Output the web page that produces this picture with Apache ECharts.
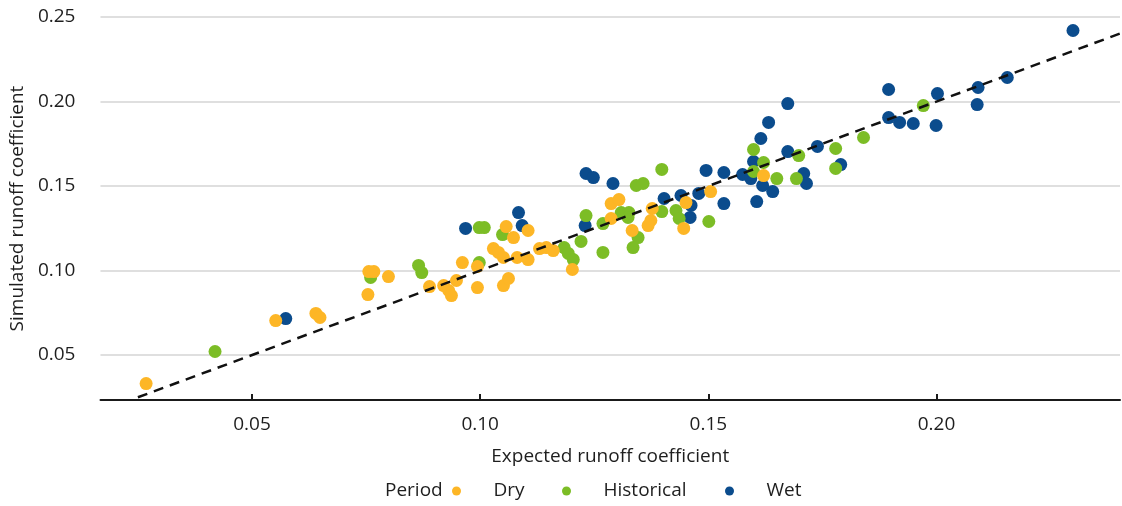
<!DOCTYPE html>
<html>
<head>
<meta charset="utf-8">
<script src="https://cdn.jsdelivr.net/npm/echarts@6/dist/echarts.min.js"></script>
<style>
  html, body { margin: 0; padding: 0; background: #ffffff; }
  #chart { width: 1122px; height: 506px; }
</style>
</head>
<body>
<div id="chart"></div>
<script>
// Expected vs simulated runoff coefficient, grouped by climate period
const dryExpected = [0.0268, 0.0552, 0.0640, 0.0649, 0.0756, 0.0767, 0.0754, 0.0799, 0.0889, 0.0920,
  0.0931, 0.0937, 0.0948, 0.0961, 0.0994, 0.0994, 0.1057, 0.1073, 0.1105, 0.1029,
  0.1040, 0.1051, 0.1081, 0.1105, 0.1051, 0.1062, 0.1130, 0.1145, 0.1160, 0.1202,
  0.1287, 0.1304, 0.1287, 0.1377, 0.1374, 0.1368, 0.1333, 0.1451, 0.1446, 0.1505, 0.1621];
const drySimulated = [0.0331, 0.0704, 0.0746, 0.0722, 0.0994, 0.0994, 0.0858, 0.0964, 0.0905, 0.0911,
  0.0882, 0.0852, 0.0941, 0.1047, 0.1024, 0.0899, 0.1260, 0.1195, 0.1237, 0.1130,
  0.1107, 0.1077, 0.1077, 0.1065, 0.0911, 0.0953, 0.1130, 0.1136, 0.1118, 0.1006,
  0.1396, 0.1420, 0.1308, 0.1367, 0.1296, 0.1266, 0.1237, 0.1402, 0.1249, 0.1467, 0.1562];

const histExpected = [0.0419, 0.0760, 0.0865, 0.0872, 0.0998, 0.0998, 0.1009, 0.1049, 0.1184, 0.1193,
  0.1204, 0.1221, 0.1232, 0.1269, 0.1269, 0.1309, 0.1326, 0.1324, 0.1346, 0.1335,
  0.1342, 0.1357, 0.1398, 0.1398, 0.1429, 0.1436, 0.1501, 0.1599, 0.1621, 0.1599,
  0.1650, 0.1698, 0.1693, 0.1779, 0.1779, 0.1840, 0.1971];
const histSimulated = [0.0521, 0.0959, 0.1030, 0.0988, 0.1047, 0.1254, 0.1254, 0.1213, 0.1136, 0.1101,
  0.1065, 0.1172, 0.1325, 0.1278, 0.1107, 0.1343, 0.1343, 0.1314, 0.1195, 0.1136,
  0.1503, 0.1515, 0.1598, 0.1349, 0.1355, 0.1308, 0.1290, 0.1716, 0.1639, 0.1586,
  0.1544, 0.1680, 0.1544, 0.1722, 0.1604, 0.1787, 0.1976];

const wetExpected = [0.0574, 0.0968, 0.1084, 0.1092, 0.1232, 0.1248, 0.1291, 0.1230, 0.1403, 0.1440,
  0.1462, 0.1479, 0.1460, 0.1495, 0.1534, 0.1534, 0.1575, 0.1593, 0.1599, 0.1615,
  0.1632, 0.1674, 0.1619, 0.1641, 0.1606, 0.1674, 0.1709, 0.1715, 0.1739, 0.1790,
  0.1895, 0.1895, 0.1919, 0.1949, 0.2002, 0.1999, 0.2089, 0.2091, 0.2155, 0.2299];
const wetSimulated = [0.0716, 0.1249, 0.1343, 0.1266, 0.1574, 0.1550, 0.1515, 0.1266, 0.1426, 0.1444,
  0.1385, 0.1456, 0.1314, 0.1592, 0.1580, 0.1396, 0.1568, 0.1544, 0.1645, 0.1781,
  0.1876, 0.1988, 0.1503, 0.1467, 0.1408, 0.1704, 0.1574, 0.1515, 0.1734, 0.1627,
  0.2071, 0.1905, 0.1876, 0.1870, 0.2047, 0.1858, 0.1982, 0.2083, 0.2142, 0.2420];

// 1:1 reference line end points
const oneToOne = [0.025, 0.2402];

const xTicks = [0.05, 0.10, 0.15, 0.20];
const yTicks = [0.05, 0.10, 0.15, 0.20, 0.25];
const periods = ['Dry', 'Historical', 'Wet'];
const colors = { Dry: '#FDB626', Historical: '#7CBD26', Wet: '#0B4C8D' };

const pairs = (xs, ys) => xs.map((x, i) => [x, ys[i]]);

const FONT = '"Open Sans", sans-serif';
const FONT_SIZE = 19;
const TEXT = '#1e1e1e';
const LEGEND_MID = 491;

const chart = echarts.init(document.getElementById('chart'), null, { renderer: 'canvas' });

// each legend entry is placed on its own so the spacing follows the period labels
const legendPos = { Dry: 452, Historical: 562, Wet: 725 };
const legends = periods.map(p => ({
  data: [p],
  left: legendPos[p],
  top: LEGEND_MID - 10,
  padding: 0,
  icon: 'circle',
  itemWidth: 64,
  itemHeight: 9,
  selectedMode: false,
  textStyle: { fontFamily: FONT, fontSize: FONT_SIZE, color: TEXT, lineHeight: 20 }
}));

const scatter = (name, xs, ys, z) => ({
  name: name,
  type: 'scatter',
  data: pairs(xs, ys),
  symbolSize: 13,
  itemStyle: { color: colors[name], opacity: 1 },
  z: z
});

chart.setOption({
  animation: false,
  textStyle: { fontFamily: FONT },
  grid: { left: 98, right: 2, top: 17, bottom: 106, containLabel: false },
  legend: legends,
  graphic: [{
    type: 'text',
    x: 385,
    y: LEGEND_MID,
    style: { text: 'Period', font: FONT_SIZE + 'px ' + FONT, fill: TEXT, verticalAlign: 'middle', align: 'left' }
  }],
  xAxis: {
    type: 'value',
    min: 0.0168,
    max: 0.2402,
    name: 'Expected runoff coefficient',
    nameLocation: 'middle',
    nameGap: 47,
    nameTextStyle: { fontFamily: FONT, fontSize: FONT_SIZE, color: TEXT },
    axisLine: { show: true, onZero: false, lineStyle: { color: '#1a1a1a', width: 2 } },
    axisTick: { show: true, inside: true, length: 6, customValues: xTicks, lineStyle: { color: '#1a1a1a', width: 2 } },
    axisLabel: { customValues: xTicks, margin: 15, fontFamily: FONT, fontSize: FONT_SIZE, color: TEXT,
      formatter: v => v.toFixed(2) },
    splitLine: { show: false }
  },
  yAxis: {
    type: 'value',
    min: 0.0234,
    max: 0.25,
    name: 'Simulated runoff coefficient',
    nameLocation: 'middle',
    nameRotate: 90,
    nameGap: 70,
    nameTextStyle: { fontFamily: FONT, fontSize: FONT_SIZE, color: TEXT },
    axisLine: { show: false },
    axisTick: { show: false, customValues: yTicks },
    axisLabel: { customValues: yTicks, margin: 25, fontFamily: FONT, fontSize: FONT_SIZE, color: TEXT,
      formatter: v => v.toFixed(2) },
    splitLine: { show: true, lineStyle: { color: '#d4d4d4', width: 1.5 } }
  },
  series: [
    scatter('Wet', wetExpected, wetSimulated, 2),
    scatter('Historical', histExpected, histSimulated, 3),
    scatter('Dry', dryExpected, drySimulated, 4),
    {
      name: '1:1',
      type: 'line',
      data: [[oneToOne[0], oneToOne[0]], [oneToOne[1], oneToOne[1]]],
      symbol: 'none',
      silent: true,
      lineStyle: { color: '#111111', width: 2.5, type: [10, 7] },
      z: 5
    }
  ]
});
</script>
</body>
</html>
